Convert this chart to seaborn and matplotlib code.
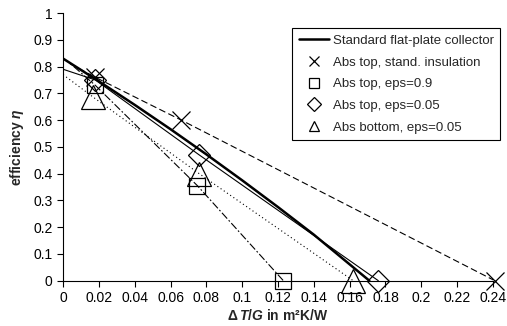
import pandas as pd
import matplotlib
matplotlib.use('Agg')
import matplotlib.pyplot as plt
from matplotlib.lines import Line2D
import seaborn as sns

# standard collector curve
std_x = [0, 0.02, 0.04, 0.06, 0.08, 0.10, 0.12, 0.14, 0.171]
std_y = [0.83, 0.745, 0.657, 0.566, 0.472, 0.375, 0.275, 0.172, 0]

# measured points (markers) and line start at the left
x_top_ins = [0.018, 0.066, 0.241]
y_top_ins = [0.76, 0.60, 0]
x_top_09 = [0.018, 0.075, 0.123]
y_top_09 = [0.73, 0.355, 0]
x_top_005 = [0.018, 0.076, 0.176]
y_top_005 = [0.75, 0.47, 0]
x_bot_005 = [0.017, 0.076, 0.162]
y_bot_005 = [0.685, 0.40, 0]

line_start_x = [0.004, 0.006, 0.0, 0.0]
line_start_y = [0.81, 0.80, 0.79, 0.77]

labels = ['Abs top, stand. insulation', 'Abs top, eps=0.9',
          'Abs top, eps=0.05', 'Abs bottom, eps=0.05']

sns.set_style('ticks')
plt.rcParams['font.family'] = ['Liberation Sans', 'DejaVu Sans']
plt.rcParams['mathtext.fontset'] = 'custom'
plt.rcParams['mathtext.rm'] = 'Liberation Sans:bold'
plt.rcParams['mathtext.it'] = 'Liberation Sans:italic:bold'
plt.rcParams['mathtext.bf'] = 'Liberation Sans:bold'

fig = plt.figure(figsize=(5.07, 3.26), dpi=100)
ax = fig.add_axes([0.1243, 0.139, 0.848, 0.821])

series = [(x_top_ins, y_top_ins, 'x', (0, (6, 3)), 13),
          (x_top_09, y_top_09, 's', (0, (7, 2, 1.5, 2)), 11),
          (x_top_005, y_top_005, 'D', '-', 11),
          (x_bot_005, y_bot_005, '^', (0, (1, 2.5)), 17)]

for i, (xs, ys, m, ls, ms) in enumerate(series):
    df = pd.DataFrame({'x': [line_start_x[i]] + xs, 'y': [line_start_y[i]] + ys})
    sns.lineplot(data=df, x='x', y='y', ax=ax, color='black', lw=0.8,
                 linestyle=ls, estimator=None, sort=False)
    ax.plot(xs, ys, linestyle='none', marker=m, ms=ms, mfc='none', mec='black',
            mew=0.9, clip_on=False, zorder=3)

std_df = pd.DataFrame({'x': std_x, 'y': std_y})
sns.lineplot(data=std_df, x='x', y='y', ax=ax, color='black', lw=1.8, estimator=None)

ax.set_xlim(0, 0.24)
ax.set_ylim(0, 1)
ax.set_xticks([i * 0.02 for i in range(13)])
ax.set_xticklabels(['0', '0.02', '0.04', '0.06', '0.08', '0.1', '0.12', '0.14',
                    '0.16', '0.18', '0.2', '0.22', '0.24'])
ax.set_yticks([i * 0.1 for i in range(11)])
ax.set_yticklabels(['0', '0.1', '0.2', '0.3', '0.4', '0.5', '0.6', '0.7', '0.8', '0.9', '1'])
ax.tick_params(labelsize=10, length=4, width=0.8, color='black', labelcolor='black')
for s in ['top', 'right']:
    ax.spines[s].set_visible(False)
for s in ['left', 'bottom']:
    ax.spines[s].set_color('black')
    ax.spines[s].set_linewidth(0.8)

ax.set_xlabel(r'$\Delta\,T/G$ in m²K/W', fontsize=10, fontweight='bold', labelpad=2)
ax.set_ylabel(r'efficiency $\eta$', fontsize=10, fontweight='bold', labelpad=5)

handles = [Line2D([], [], color='black', lw=1.8)]
for (xs, ys, m, ls, ms) in series:
    handles.append(Line2D([], [], linestyle='none', marker=m, ms=7, mfc='none',
                          mec='black', mew=0.9))
leg = ax.legend(handles, ['Standard flat-plate collector'] + labels,
                loc='upper right', bbox_to_anchor=(0.987, 0.914),
                bbox_transform=fig.transFigure, borderaxespad=0,
                fontsize=9.5, frameon=True,
                fancybox=False, edgecolor='black', framealpha=1,
                handlelength=2.3, handletextpad=0.3, borderpad=0.5,
                labelspacing=0.72)
leg.get_frame().set_linewidth(0.8)

fig.savefig('out.png', dpi=100)
